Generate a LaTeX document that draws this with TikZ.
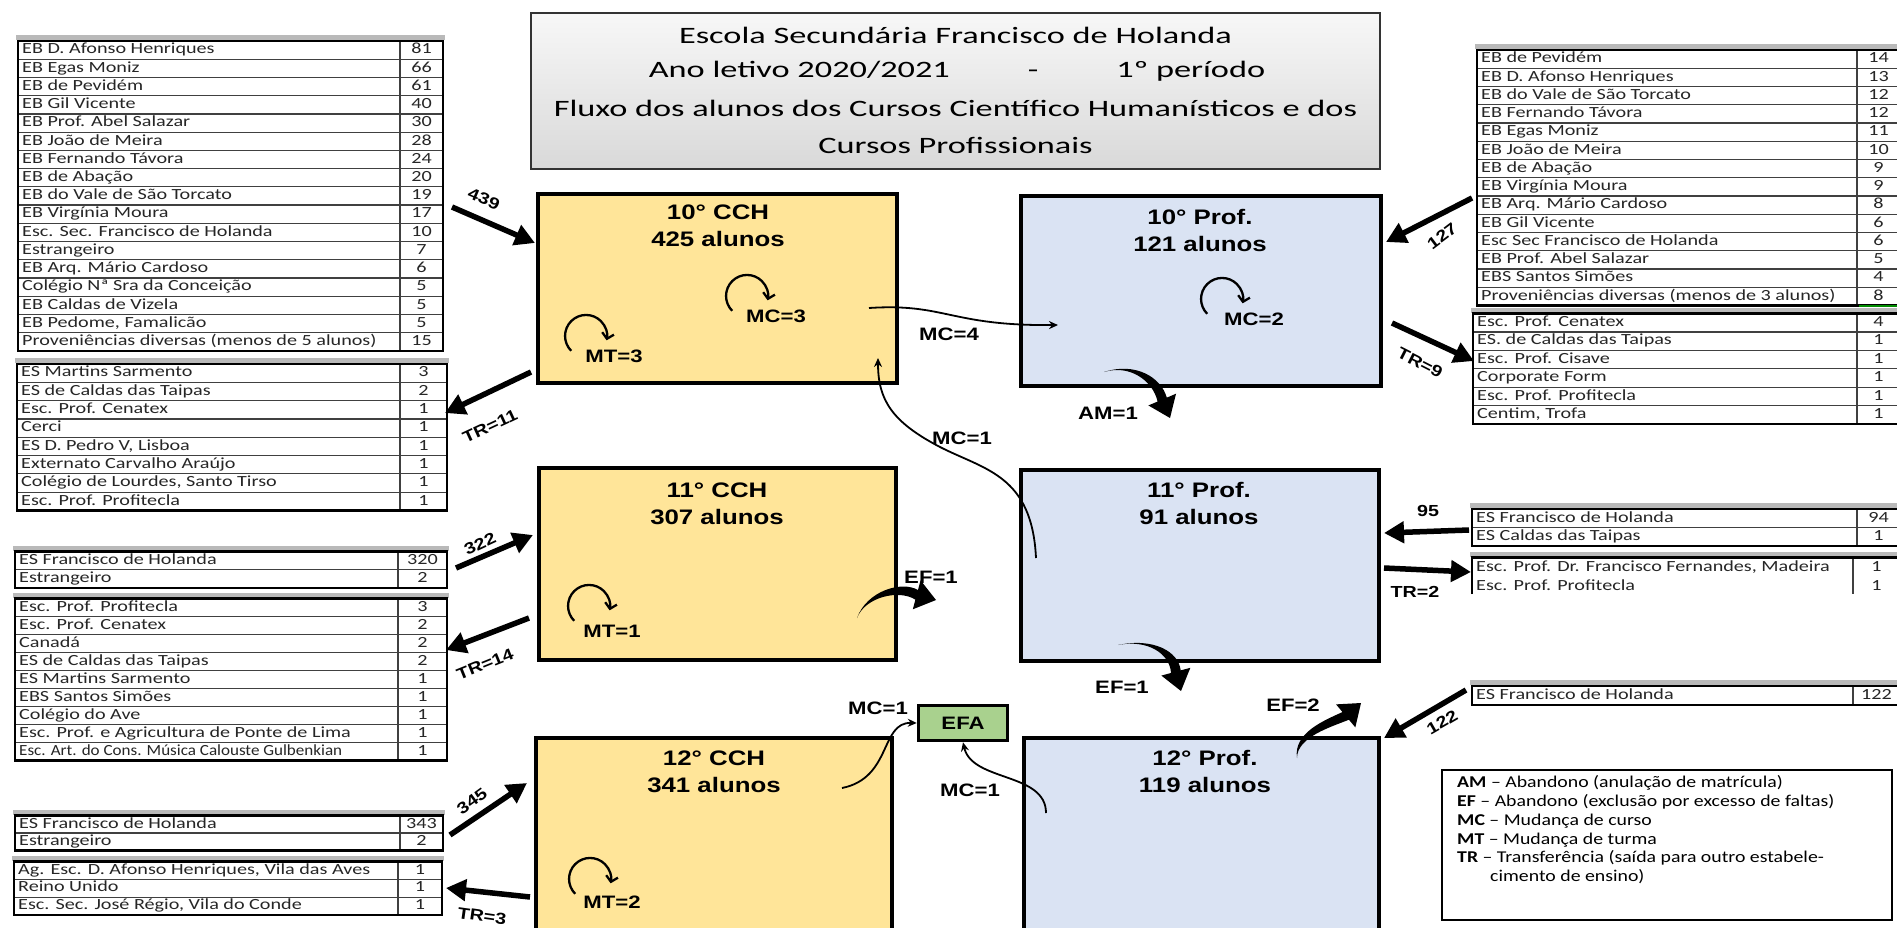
\documentclass[tikz,border=0pt]{standalone}
\usepackage{fontspec}
\setmainfont{Carlito}
\newfontfamily\titlefont[FakeStretch=1.46]{Carlito}
\newfontfamily\tabfont[FakeStretch=1.3]{Carlito}
\newfontfamily\tabfontn[FakeStretch=1.1]{Carlito}
\newfontfamily\legfont[FakeStretch=1.2]{Carlito}
\newfontfamily\boxfont[FakeStretch=1.23]{Liberation Sans}
\usetikzlibrary{arrows.meta,calc}
\definecolor{cchfill}{HTML}{FFE599}
\definecolor{proffill}{HTML}{DAE3F3}
\definecolor{efafill}{HTML}{A9D18E}
\tikzset{
  yearbox/.style={draw=black, line width=4.5pt, inner sep=0pt},
  boxtxt/.style={font={\fontsize{21}{27}\boxfont\bfseries}, align=center, inner sep=0pt},
  lbl/.style={font={\fontsize{18}{20}\boxfont\bfseries}, inner sep=0pt},
  arrlbl/.style={font={\fontsize{16}{18}\boxfont\bfseries}, inner sep=0pt},
  ttl/.style={font={\fontsize{23.5}{30}\titlefont}, inner sep=0pt},
  tabtxt/.style={font={\fontsize{15.5}{18}\tabfont}, text=black!85, inner sep=0pt, text height=10.5pt, text depth=3pt},
  legtxt/.style={font={\fontsize{16.5}{18}\legfont}, inner sep=0pt, anchor=west, text height=11pt, text depth=3pt},
  rowline/.style={draw=black!75, line width=1.2pt},
  tabframe/.style={draw=black, line width=2.6pt},
  bigarrow/.style={line width=5.5pt, -{Triangle[length=20pt,width=21pt]}},
  thinarrow/.style={line width=1.8pt, -{Stealth[length=9pt,width=8pt]}},
  looparrow/.style={line width=2.3pt, -{Straight Barb[length=5.5pt,width=12pt]}},
}
% #1 name #2 L #3 S #4 R #5 T #6 h #7 n #8 list
\newcommand\drawtable[8]{%
  \pgfmathsetmacro\tB{#5+#7*#6}
  \fill[white] (#2,#5) rectangle (#4,\tB);
  \foreach \rowtxt/\rownum [count=\i from 0] in {#8}{
    \pgfmathsetmacro\yc{#5+(\i+0.5)*#6}
    \ifnum\i>0\relax \draw[rowline] (#2,{#5+\i*#6}) -- (#4,{#5+\i*#6}); \fi
    \node[tabtxt, anchor=west] (#1-t\i) at ({#2+4},\yc) {\rowtxt};
    \node[tabtxt] (#1-n\i) at ({(#3+#4)/2},\yc) {\rownum};
  }
  \draw[rowline] (#3,#5) -- (#3,\tB);
  \fill[gray!55] ({#2-2},{#5-6}) rectangle ({#4+2},{#5-1});
  \draw[tabframe] (#2,#5) rectangle (#4,\tB);
}
% tapered block arrow: #1 tail, #2 ctrl1, #3 ctrl2, #4 tip, #5 head direction (user angle)
\newcommand\blockarrow[5]{%
  \path (#4) ++(#5+180:20) coordinate (bb);
  \path (bb) ++(#5+90:5) coordinate (bbp);
  \path (bb) ++(#5-90:5) coordinate (bbm);
  \path (bb) ++(#5+90:15) coordinate (hbp);
  \path (bb) ++(#5-90:15) coordinate (hbm);
  \path (#3) ++(#5-90:9) coordinate (cc3);
  \path (#2) ++(#5-90:6) coordinate (cc2);
  \fill (#1) .. controls (#2) and (#3) .. (bbp) -- (hbp) -- (#4) -- (hbm) -- (bbm) .. controls (cc3) and (cc2) .. (#1) -- cycle;
}
\begin{document}
\begin{tikzpicture}[x=1pt,y=-1pt]
\useasboundingbox (0,0) rectangle (1897,927);
\clip (0,0) rectangle (1897,927);
\fill[white] (0,0) rectangle (1897,927);

% title
\node[draw=black!80, line width=2pt, top color=gray!6, bottom color=gray!30, minimum width=849pt, minimum height=156pt, inner sep=0pt] (title) at (955.5,91) {};
\node[ttl] (t1) at (955.5,35) {Escola Secundária Francisco de Holanda};
\node[ttl] (t2) at (957,71.7) {Ano letivo 2020/2021\hspace{78pt}-\hspace{78pt}1º período};
\node[ttl] (t3) at (955.5,108) {Fluxo dos alunos dos Cursos Científico Humanísticos e dos};
\node[ttl] (t4) at (955.5,145) {Cursos Profissionais};

% year boxes
\node[yearbox, fill=cchfill, minimum width=359pt, minimum height=189pt] (c10) at (717.5,288.5) {};
\node[yearbox, fill=proffill, minimum width=360pt, minimum height=190pt] (p10) at (1201,291) {};
\node[yearbox, fill=cchfill, minimum width=357pt, minimum height=192pt] (c11) at (717.5,564) {};
\node[yearbox, fill=proffill, minimum width=358pt, minimum height=191pt] (p11) at (1200,565.5) {};
\node[yearbox, fill=cchfill, minimum width=356pt, minimum height=252pt] (c12) at (714,864) {};
\node[yearbox, fill=proffill, minimum width=355pt, minimum height=252pt] (p12) at (1201.5,864) {};
\node[yearbox, line width=3.5pt, fill=efafill, minimum width=89pt, minimum height=35pt] (efa) at (963,723) {};
\node[lbl] (efat) at (963,723) {EFA};

\node[boxtxt] (c10t) at (718,225.5) {10° CCH\\425 alunos};
\node[boxtxt] (p10t) at (1200,230) {10° Prof.\\121 alunos};
\node[boxtxt] (c11t) at (717,503.5) {11° CCH\\307 alunos};
\node[boxtxt] (p11t) at (1199,503.5) {11° Prof.\\91 alunos};
\node[boxtxt] (c12t) at (714,771.5) {12° CCH\\341 alunos};
\node[boxtxt] (p12t) at (1205,771.5) {12° Prof.\\119 alunos};

% self loops
\draw[looparrow] (747,296) ++(-14.8,14.8) arc[start angle=-225, end angle=12, radius=21];
\node[lbl] (mc3) at (776,316) {MC=3};
\draw[looparrow] (586,336) ++(-14.8,14.8) arc[start angle=-225, end angle=12, radius=21];
\node[lbl] (mt3) at (614,356) {MT=3};
\draw[looparrow] (1222,299) ++(-14.8,14.8) arc[start angle=-225, end angle=12, radius=21];
\node[lbl] (mc2) at (1254,319) {MC=2};
\draw[looparrow] (589,606) ++(-14.8,14.8) arc[start angle=-225, end angle=12, radius=21];
\node[lbl] (mt1) at (612,631) {MT=1};
\draw[looparrow] (590,879) ++(-14.8,14.8) arc[start angle=-225, end angle=12, radius=21];
\node[lbl] (mt2) at (612,902) {MT=2};

% thin course-change arrows
\coordinate (mc4s) at (869,308);
\coordinate (mc4e) at (1058,325);
\draw[thinarrow] (mc4s) .. controls (945,303) and (950,326) .. (mc4e);
\node[lbl] (mc4) at (949,334) {MC=4};

\coordinate (mc1as) at (1036,558);
\coordinate (mc1am) at (940,447);
\coordinate (mc1ae) at (878,358);
\draw[thinarrow] (mc1as) .. controls (1032,475) and (985,470) .. (mc1am) .. controls (892,422) and (878,400) .. (mc1ae);
\node[lbl] (mc1a) at (962,438) {MC=1};

\coordinate (mc1bs) at (842,788);
\draw[thinarrow] (mc1bs) .. controls (892,778) and (880,722) .. (efa.west);
\node[lbl] (mc1b) at (878,708) {MC=1};

\coordinate (mc1cs) at (1046,813);
\draw[thinarrow] (mc1cs) .. controls (1046,772) and (972,782) .. (efa.south);
\node[lbl] (mc1c) at (970,790) {MC=1};

% curved block arrows (abandon)
\coordinate (ams) at (1104,372);  \coordinate (ame) at (1170,418);
\blockarrow{ams}{1130,364}{1153,381}{ame}{67}
\node[lbl] (am1) at (1108,413) {AM=1};

\coordinate (ef1as) at (857,618); \coordinate (ef1ae) at (936,600);
\blockarrow{ef1as}{865,597}{899,589}{ef1ae}{15}
\node[lbl] (ef1a) at (931,577) {EF=1};

\coordinate (ef1bs) at (1118,645); \coordinate (ef1be) at (1181,691);
\blockarrow{ef1bs}{1148,639}{1170,654}{ef1be}{75}
\node[lbl] (ef1b) at (1122,687) {EF=1};

\coordinate (ef2s) at (1297,758); \coordinate (ef2e) at (1361,703);
\blockarrow{ef2s}{1297,737}{1331,727}{ef2e}{-40}
\node[lbl] (ef2) at (1293,705) {EF=2};

% left tables
\drawtable{T1}{18}{400}{443}{41}{18.23}{17}{EB D. Afonso Henriques/81, EB Egas Moniz/66, EB de Pevidém/61, EB Gil Vicente/40, EB Prof. Abel Salazar/30, EB João de Meira/28, EB Fernando Távora/24, EB de Abação/20, EB do Vale de São Torcato/19, EB Virgínia Moura/17, Esc. Sec. Francisco de Holanda/10, Estrangeiro/7, EB Arq. Mário Cardoso/6, Colégio Nª Sra da Conceição/5, EB Caldas de Vizela/5, {EB Pedome, Famalicão}/5, Proveniências diversas (menos de 5 alunos)/15}
\drawtable{T2}{17}{400}{447}{364}{18.3}{8}{ES Martins Sarmento/3, ES de Caldas das Taipas/2, Esc. Prof. Cenatex/1, Cerci/1, {ES D. Pedro V, Lisboa}/1, Externato Carvalho Araújo/1, {Colégio de Lourdes, Santo Tirso}/1, Esc. Prof. Profitecla/1}
\drawtable{T3}{15}{398}{447}{551.5}{18.3}{2}{ES Francisco de Holanda/320, Estrangeiro/2}
\drawtable{T4}{15}{398}{447}{598.7}{18}{9}{Esc. Prof. Profitecla/3, Esc. Prof. Cenatex/2, Canadá/2, ES de Caldas das Taipas/2, ES Martins Sarmento/1, EBS Santos Simões/1, Colégio do Ave/1, Esc. Prof. e Agricultura de Ponte de Lima/1, {\tabfontn Esc. Art. do Cons. Música Calouste Gulbenkian}/1}
\drawtable{T5}{15}{400}{443}{815.6}{17.4}{2}{ES Francisco de Holanda/343, Estrangeiro/2}
\drawtable{T6}{14}{398}{442}{861.5}{17.8}{3}{{Ag. Esc. D. Afonso Henriques, Vila das Aves}/1, Reino Unido/1, {Esc. Sec. José Régio, Vila do Conde}/1}

% right tables
\drawtable{R1}{1477}{1857}{1900}{50}{18.25}{14}{EB de Pevidém/14, EB D. Afonso Henriques/13, EB do Vale de São Torcato/12, EB Fernando Távora/12, EB Egas Moniz/11, EB João de Meira/10, EB de Abação/9, EB Virgínia Moura/9, EB Arq. Mário Cardoso/8, EB Gil Vicente/6, Esc Sec Francisco de Holanda/6, EB Prof. Abel Salazar/5, EBS Santos Simões/4, Proveniências diversas (menos de 3 alunos)/8}
\draw[green!55!black, line width=2.5pt] (1859,306) -- (1897,306);
\drawtable{R2}{1473}{1857}{1900}{313.5}{18.4}{6}{Esc. Prof. Cenatex/4, ES. de Caldas das Taipas/1, Esc. Prof. Cisave/1, Corporate Form/1, Esc. Prof. Profitecla/1, {Centim, Trofa}/1}
\drawtable{R3}{1472}{1857}{1900}{509}{18.5}{2}{ES Francisco de Holanda/94, ES Caldas das Taipas/1}
% R4 (open at the bottom)
\fill[white] (1472,557.6) rectangle (1900,594);
\fill[gray!55] (1470,551.6) rectangle (1902,556.6);
\draw[rowline] (1853,557.6) -- (1853,594);
\draw[tabframe] (1472,594) -- (1472,557.6) -- (1900,557.6);
\node[tabtxt, anchor=west] (R4-t0) at (1476,567.3) {Esc. Prof. Dr. Francisco Fernandes, Madeira};
\node[tabtxt] (R4-n0) at (1876.5,567.3) {1};
\node[tabtxt, anchor=west] (R4-t1) at (1476,586.7) {Esc. Prof. Profitecla};
\node[tabtxt] (R4-n1) at (1876.5,586.7) {1};
\drawtable{R5}{1472}{1853}{1900}{686}{19}{1}{ES Francisco de Holanda/122}

% transfer / entry arrows
\coordinate (i439) at (452,207);   \coordinate (e439) at (535,243);
\draw[bigarrow] (i439) -- (e439);
\node[arrlbl, rotate=-23] (l439) at (484,199) {439};
\coordinate (s11) at (531,372);    \coordinate (e11) at (445,413);
\draw[bigarrow] (s11) -- (e11);
\node[arrlbl, rotate=25] (ltr11) at (490,426) {TR=11};
\coordinate (i322) at (456,568);   \coordinate (e322) at (533,535);
\draw[bigarrow] (i322) -- (e322);
\node[arrlbl, rotate=25] (l322) at (480,544) {322};
\coordinate (s14) at (529,618);    \coordinate (e14) at (446,650);
\draw[bigarrow] (s14) -- (e14);
\node[arrlbl, rotate=22] (ltr14) at (485,664) {TR=14};
\coordinate (i345) at (450,835);   \coordinate (e345) at (527,783);
\draw[bigarrow] (i345) -- (e345);
\node[arrlbl, rotate=36] (l345) at (472,801) {345};
\coordinate (s3) at (530,897);     \coordinate (e3) at (446,888);
\draw[bigarrow] (s3) -- (e3);
\node[arrlbl, rotate=-8] (ltr3) at (482,916) {TR=3};
\coordinate (i127) at (1472,198);  \coordinate (e127) at (1386,242);
\draw[bigarrow] (i127) -- (e127);
\node[arrlbl, rotate=37] (l127) at (1442,236) {127};
\coordinate (s9) at (1392,323);    \coordinate (e9) at (1474,361);
\draw[bigarrow] (s9) -- (e9);
\node[arrlbl, rotate=-27] (ltr9) at (1420,363) {TR=9};
\coordinate (i95) at (1469,530);   \coordinate (e95) at (1384,533);
\draw[bigarrow] (i95) -- (e95);
\node[arrlbl] (l95) at (1428,511) {95};
\coordinate (s2) at (1384,568);    \coordinate (e2) at (1471,572);
\draw[bigarrow] (s2) -- (e2);
\node[arrlbl] (ltr2) at (1415,592) {TR=2};
\coordinate (i122) at (1466,690);  \coordinate (e122) at (1384,738);
\draw[bigarrow] (i122) -- (e122);
\node[arrlbl, rotate=30] (l122) at (1442,722) {122};

% legend
\node[draw=black, line width=2pt, minimum width=450pt, minimum height=150pt, inner sep=0pt] (legend) at (1667,845) {};
\node[legtxt] (lg1) at (1457,783) {\textbf{AM} – Abandono (anulação de matrícula)};
\node[legtxt] (lg2) at (1457,802) {\textbf{EF} – Abandono (exclusão por excesso de faltas)};
\node[legtxt] (lg3) at (1457,821) {\textbf{MC} – Mudança de curso};
\node[legtxt] (lg4) at (1457,840) {\textbf{MT} – Mudança de turma};
\node[legtxt] (lg5) at (1457,858.5) {\textbf{TR} – Transferência (saída para outro estabele-};
\node[legtxt] (lg6) at (1490,877) {cimento de ensino)};
\end{tikzpicture}
\end{document}
